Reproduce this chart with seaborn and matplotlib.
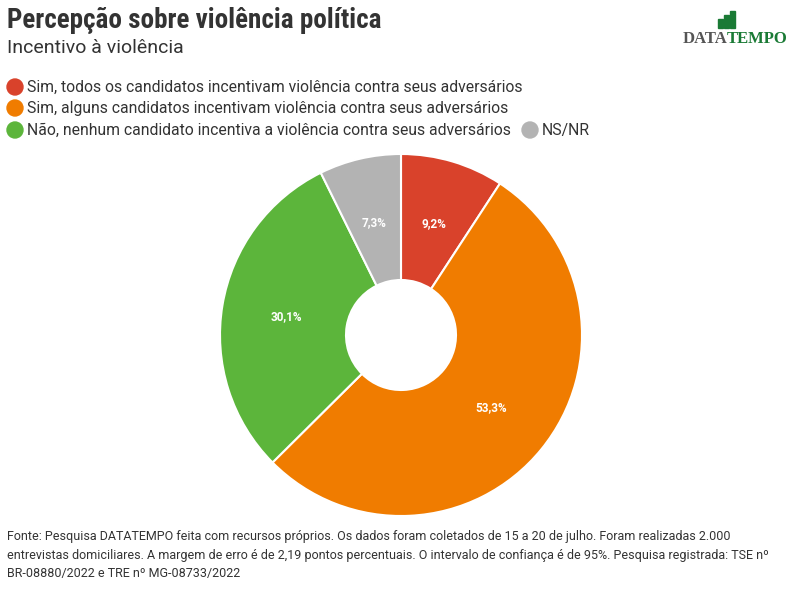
import matplotlib
matplotlib.use("Agg")
import matplotlib.pyplot as plt
import seaborn as sns
from matplotlib.patches import Rectangle, Ellipse
import numpy as np

sns.set_theme(style="white")
plt.rcParams['font.family'] = ['Roboto', 'DejaVu Sans']

labels = ["Sim, todos os candidatos incentivam violência contra seus adversários",
          "Sim, alguns candidatos incentivam violência contra seus adversários",
          "Não, nenhum candidato incentiva a violência contra seus adversários",
          "NS/NR"]
values = [9.2, 53.3, 30.1, 7.3]
pct_labels = ["9,2%", "53,3%", "30,1%", "7,3%"]
colors = ["#d9422b", "#f07c00", "#5cb53b", "#b3b3b3"]

W, H = 811, 592
fig = plt.figure(figsize=(W/100, H/100), dpi=100)
fig.patch.set_facecolor("white")

cx, cy, r = 401, 335, 181
ax = fig.add_axes([(cx-r)/W, 1-(cy+r)/H, 2*r/W, 2*r/H])
wedges, _ = ax.pie(values, colors=colors, startangle=90, counterclock=False,
                   radius=1, wedgeprops=dict(width=1-55/181, edgecolor="white", linewidth=1.5))
ax.set_xlim(-1, 1)
ax.set_ylim(-1, 1)
ax.set_aspect("equal")
cum = np.cumsum([0]+values)
for i, v in enumerate(values):
    mid = 90 - (cum[i]+v/2)/100*360
    rr = 0.64
    ax.text(rr*np.cos(np.radians(mid)), rr*np.sin(np.radians(mid)), pct_labels[i],
            ha="center", va="center", color="white", fontsize=8.5, fontweight="bold")

fig.text(7/W, 1-20/H, "Percepção sobre violência política", fontsize=19.5, fontweight="bold",
         color="#333333", va="center", family=["Roboto Condensed", "Roboto", "DejaVu Sans"])
fig.text(7/W, 1-48/H, "Incentivo à violência", fontsize=14, color="#333333", va="center")

fig.text(727/W, 1-39/H, "DATA", fontsize=12, fontweight="bold", color="#555555",
         family="Liberation Serif", ha="right", va="center")
fig.text(727/W, 1-39/H, "TEMPO", fontsize=12, fontweight="bold", color="#1a7a35",
         family="Liberation Serif", ha="left", va="center")
for x0, h in [(718, 9), (724, 13), (730, 17)]:
    fig.patches.append(Rectangle((x0/W, 1-28/H), 5/W, h/H, transform=fig.transFigure,
                                 color="#1a7a35"))

def leg(x, y, i):
    fig.patches.append(Ellipse((x/W, 1-y/H), 16/W, 16/H, transform=fig.transFigure, color=colors[i]))
    fig.text((x+12)/W, 1-y/H, labels[i], fontsize=11.3, color="#333333", va="center")
leg(15, 87, 0)
leg(15, 108, 1)
leg(15, 130, 2)
leg(530, 130, 3)

src = ("Fonte: Pesquisa DATATEMPO feita com recursos próprios. Os dados foram coletados de 15 a 20 de julho. Foram realizadas 2.000\n"
       "entrevistas domiciliares. A margem de erro é de 2,19 pontos percentuais. O intervalo de confiança é de 95%. Pesquisa registrada: TSE nº\n"
       "BR-08880/2022 e TRE nº MG-08733/2022")
fig.text(7/W, 1-555/H, src, fontsize=9, color="#333333", va="center", linespacing=1.55)

fig.savefig("out.png", dpi=100)
